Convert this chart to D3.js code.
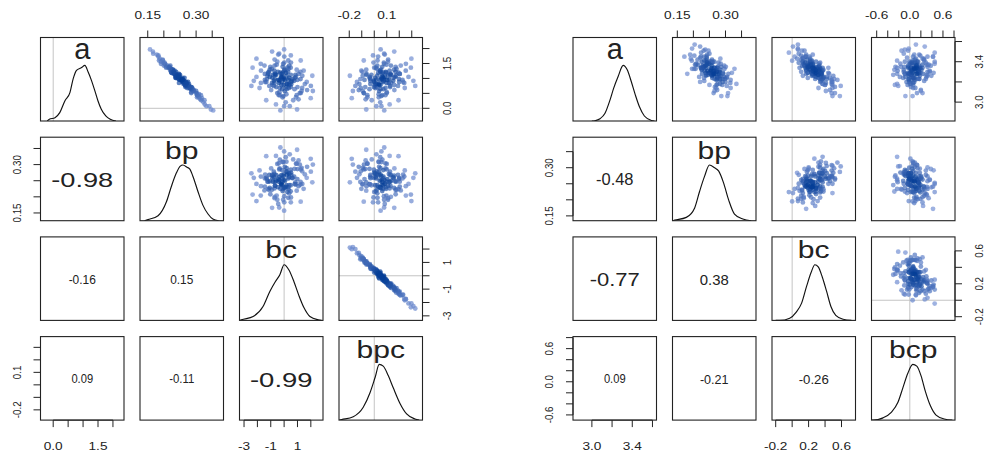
<!DOCTYPE html>
<html><head><meta charset="utf-8">
<script src="https://cdn.jsdelivr.net/npm/d3@7"></script>
<style>
body{margin:0;background:#fff}
svg{display:block}
text{font-family:"Liberation Sans",Arial,Helvetica,sans-serif;fill:#222}
</style></head>
<body><svg id="chart" width="987" height="454"></svg>
<script>
// ---------------- DATA ----------------
const m1_vars = ["a","bp","bc","bpc"];
const m2_vars = ["a","bp","bc","bcp"];

// posterior samples, model 1
const m1_a = [1.05,0.68,1.36,0.92,1.15,0.44,0.95,1.26,0.81,1.56,0.75,1.02,0.58,1.12,0.88,1.29,0.20,1.09,0.71,0.98,1.43,0.85,1.19,0.51,0.95,1.73,0.78,1.22,0.64,1.05,0.37,1.32,0.92,1.15,0.81,1.46,0.61,1.02,0.75,1.26,0.88,1.12,0.54,1.39,0.68,0.95,1.09,0.07,1.53,0.85,1.19,0.78,0.98,1.29,0.47,1.05,0.92,1.63,0.71,1.15,0.30,1.02,1.36,0.81,1.22,0.64,0.95,1.49,0.88,1.12,0.58,1.26,0.75,0.98,1.43,0.41,1.09,0.85,1.19,0.68,1.83,0.92,1.05,0.51,1.32,0.78,1.15,0.27,0.95,1.39,0.71,1.02,0.61,1.22,0.88,1.60,0.81,1.12,0.44,0.98,
  1.90,-0.04,1.09,0.75,1.60,0.27,1.66,0.34,1.02,0.85,1.22,0.78,1.77,0.13,1.36,0.58,0.95,1.15,0.81,1.05,0.64,1.29,1.49,0.44,0.98,0.88,1.80,0.07,1.26,0.68,1.43,0.51,1.12,0.92,1.53,0.37,1.19,0.71,1.97,-0.07];
const m1_bp = [0.248,0.273,0.217,0.263,0.233,0.304,0.250,0.233,0.268,0.191,0.278,0.239,0.293,0.250,0.259,0.227,0.323,0.247,0.284,0.246,0.211,0.263,0.224,0.300,0.255,0.183,0.266,0.238,0.283,0.246,0.303,0.222,0.263,0.232,0.278,0.204,0.288,0.236,0.278,0.226,0.257,0.245,0.285,0.218,0.279,0.257,0.236,0.341,0.198,0.271,0.225,0.271,0.255,0.219,0.309,0.240,0.259,0.196,0.267,0.238,0.313,0.258,0.215,0.270,0.222,0.289,0.252,0.204,0.275,0.235,0.290,0.229,0.268,0.258,0.200,0.308,0.240,0.268,0.231,0.288,0.167,0.259,0.239,0.302,0.223,0.270,0.247,0.316,0.255,0.208,0.279,0.237,0.293,0.230,0.259,0.197,0.261,0.247,0.303,0.252,
  0.166,0.346,0.245,0.273,0.185,0.326,0.187,0.318,0.264,0.247,0.230,0.267,0.183,0.327,0.207,0.300,0.257,0.234,0.269,0.241,0.287,0.228,0.191,0.315,0.246,0.269,0.178,0.332,0.225,0.282,0.220,0.285,0.236,0.261,0.202,0.308,0.224,0.286,0.157,0.353];
const m1_bc = [-1.07,0.35,0.49,-0.34,1.08,-0.40,0.07,-1.73,0.54,-0.51,-0.77,0.80,0.05,-0.59,1.69,0.02,0.12,-1.25,0.50,-0.70,0.38,-1.74,-0.11,1.17,-0.44,0.01,-0.87,1.22,-0.15,-0.14,0.89,-0.92,0.75,-1.44,0.21,-0.56,-0.97,0.38,2.00,-0.73,-0.16,0.84,-0.36,-0.11,1.35,-1.44,0.18,0.00,0.51,-0.73,-0.28,0.39,-1.29,0.94,0.17,-2.07,0.59,-0.71,-0.59,-0.18,1.08,-0.88,0.24,1.55,-1.13,0.19,-0.35,-1.75,0.52,-0.67,1.31,0.03,-1.11,0.64,-0.71,-0.05,1.36,-0.90,0.14,-0.33,-0.37,-2.27,0.87,-0.51,0.34,-0.03,-1.19,0.68,0.99,-1.03,0.16,-0.21,1.72,-0.46,-1.33,0.31,0.37,-0.84,0.94,-0.03,
  -0.90,0.97,2.11,-2.45,1.24,-1.34,-2.07,1.99,-0.04,-0.40,0.30,-0.20,0.50,-0.61,-2.36,2.15,0.32,-0.69,0.21,-0.23,0.78,-1.08,-0.07,-0.32,1.23,-1.42,-0.44,0.42,1.46,-1.84,-1.47,1.25,0.50,-0.76,0.01,-0.12,-1.20,1.00,0.00,-0.28];
const m1_bpc = [0.167,0.010,0.013,0.073,-0.062,0.089,0.044,0.252,-0.031,0.110,0.126,-0.038,0.039,0.136,-0.138,0.054,0.048,0.175,-0.003,0.119,0.024,0.240,0.071,-0.082,0.103,0.031,0.159,-0.095,0.073,0.066,-0.055,0.178,-0.032,0.204,0.037,0.097,0.161,0.007,-0.151,0.123,0.072,-0.063,0.100,0.064,-0.108,0.226,0.024,0.057,-0.006,0.117,0.095,0.005,0.198,-0.064,0.035,0.274,-0.005,0.111,0.127,0.061,-0.069,0.155,0.000,-0.119,0.170,0.050,0.081,0.253,-0.001,0.111,-0.092,0.046,0.190,-0.030,0.133,0.056,-0.092,0.133,0.032,0.090,0.079,0.313,-0.035,0.100,0.021,0.050,0.204,-0.020,-0.078,0.171,0.022,0.073,-0.124,0.092,0.199,0.026,0.011,0.128,-0.055,0.059,
  0.160,-0.064,-0.195,0.328,-0.084,0.194,0.297,-0.180,0.056,0.099,0.048,0.040,-0.010,0.123,0.293,-0.171,0.015,0.130,0.021,0.085,-0.038,0.159,0.079,0.065,-0.111,0.231,0.084,0.017,-0.103,0.244,0.212,-0.085,-0.023,0.152,0.077,0.036,0.194,-0.072,0.051,0.080];

// posterior samples, model 2
const m2_a = [3.34,3.24,3.41,3.30,3.36,3.18,3.31,3.39,3.28,3.46,3.26,3.33,3.22,3.35,3.29,3.40,3.12,3.34,3.25,3.32,3.43,3.28,3.37,3.20,3.31,3.51,3.27,3.38,3.23,3.34,3.17,3.40,3.30,3.36,3.28,3.44,3.23,3.33,3.26,3.39,3.29,3.35,3.21,3.42,3.24,3.31,3.34,3.09,3.45,3.28,3.37,3.27,3.32,3.40,3.19,3.34,3.30,3.48,3.25,3.36,3.15,3.33,3.41,3.28,3.38,3.23,3.31,3.45,3.29,3.35,3.22,3.39,3.26,3.32,3.43,3.17,3.34,3.28,3.37,3.24,3.53,3.30,3.34,3.20,3.40,3.27,3.36,3.14,3.31,3.42,3.25,3.33,3.23,3.38,3.29,3.47,3.28,3.35,3.18,3.32,
  3.55,3.06,3.34,3.26,3.47,3.14,3.49,3.16,3.33,3.28,3.38,3.27,3.51,3.11,3.41,3.22,3.31,3.36,3.28,3.34,3.23,3.40,3.45,3.18,3.32,3.29,3.52,3.09,3.39,3.24,3.43,3.20,3.35,3.30,3.45,3.17,3.37,3.25,3.57,3.06];
const m2_bp = [0.265,0.233,0.240,0.279,0.235,0.283,0.235,0.278,0.261,0.203,0.281,0.207,0.283,0.301,0.250,0.260,0.274,0.274,0.296,0.226,0.242,0.254,0.208,0.291,0.255,0.232,0.240,0.285,0.266,0.256,0.250,0.253,0.282,0.229,0.309,0.221,0.273,0.196,0.284,0.242,0.238,0.276,0.234,0.258,0.259,0.263,0.224,0.308,0.224,0.293,0.214,0.263,0.270,0.226,0.315,0.228,0.262,0.250,0.218,0.257,0.267,0.297,0.234,0.269,0.209,0.291,0.244,0.234,0.320,0.231,0.272,0.258,0.239,0.284,0.192,0.290,0.241,0.279,0.242,0.303,0.196,0.262,0.223,0.300,0.253,0.257,0.296,0.271,0.255,0.213,0.274,0.202,0.298,0.246,0.247,0.243,0.227,0.287,0.275,0.254,
  0.221,0.287,0.266,0.258,0.190,0.316,0.224,0.304,0.328,0.181,0.249,0.246,0.247,0.266,0.195,0.316,0.266,0.238,0.264,0.231,0.283,0.265,0.172,0.334,0.226,0.292,0.237,0.263,0.242,0.275,0.284,0.221,0.234,0.273,0.241,0.272,0.205,0.305,0.204,0.306];
const m2_bc = [0.18,0.38,0.24,0.27,0.33,0.37,0.29,0.08,0.36,0.11,0.27,0.34,0.37,0.20,0.44,0.22,0.46,0.16,0.38,0.22,0.22,0.17,0.23,0.48,0.25,0.12,0.25,0.33,0.34,0.25,0.49,0.13,0.36,0.12,0.34,0.13,0.28,0.31,0.50,0.16,0.29,0.32,0.35,0.18,0.46,0.17,0.27,0.48,0.21,0.25,0.21,0.36,0.17,0.29,0.41,0.09,0.34,0.08,0.29,0.23,0.52,0.20,0.22,0.45,0.14,0.37,0.26,0.03,0.35,0.20,0.48,0.22,0.24,0.33,0.13,0.40,0.37,0.24,0.25,0.32,0.07,0.11,0.34,0.34,0.24,0.32,0.15,0.49,0.37,0.11,0.35,0.26,0.51,0.19,0.19,0.17,0.35,0.18,0.48,0.28,
  0.01,0.58,0.44,0.13,0.25,0.32,-0.04,0.59,0.27,0.28,0.25,0.31,0.15,0.41,0.00,0.55,0.32,0.19,0.34,0.25,0.42,0.13,0.17,0.37,0.38,0.19,0.07,0.52,0.34,0.19,0.06,0.49,0.29,0.23,0.16,0.40,0.14,0.42,0.07,0.49];
const m2_bcp = [0.12,0.07,0.26,-0.11,0.12,0.02,0.11,0.29,-0.23,0.19,-0.02,0.08,-0.02,0.32,-0.04,0.13,0.20,-0.03,0.04,0.04,0.25,0.16,0.23,-0.06,0.16,-0.15,0.31,-0.17,0.17,0.08,-0.04,0.45,0.02,0.12,0.13,-0.05,0.17,0.10,0.18,0.03,0.16,-0.26,0.26,0.09,-0.12,0.36,0.02,0.13,0.06,-0.09,0.31,0.02,0.21,-0.09,0.06,0.17,0.15,-0.11,0.30,-0.03,0.02,0.18,-0.23,-0.01,0.12,0.29,0.02,0.32,0.05,-0.03,0.02,0.05,0.39,-0.11,0.23,0.06,0.10,-0.09,0.04,0.09,-0.02,0.36,0.19,-0.01,0.15,0.03,0.38,0.10,-0.22,0.26,-0.08,0.14,0.14,0.00,0.19,0.17,0.10,-0.10,0.00,0.15,
  0.27,-0.08,-0.23,0.32,0.08,0.06,0.45,-0.21,0.01,0.24,0.45,-0.30,-0.03,0.20,0.05,0.09,0.04,0.17,-0.02,0.23,-0.02,-0.01,0.42,-0.23,-0.28,0.43,-0.09,0.23,0.09,0.06,0.11,0.08,-0.16,0.32,0.42,-0.27,0.34,-0.18,0.11,0.05];

// density curves (x value, height relative to peak)
const m1_dens_a   = [[-0.2,0],[-0.13,0.03],[0.06,0.06],[0.22,0.15],[0.39,0.36],[0.56,0.51],[0.67,0.76],[0.78,0.91],[0.95,0.96],[1.06,1.0],[1.17,0.88],[1.28,0.73],[1.39,0.55],[1.5,0.36],[1.61,0.21],[1.76,0.09],[1.91,0.03],[2.1,0]];
const m1_dens_bp  = [[0.14,0],[0.151,0.02],[0.182,0.09],[0.208,0.34],[0.223,0.61],[0.239,0.86],[0.251,0.98],[0.259,1.0],[0.272,0.96],[0.28,0.93],[0.29,0.80],[0.306,0.52],[0.321,0.28],[0.337,0.12],[0.352,0.03],[0.37,0]];
const m1_dens_bc  = [[-3.3,0],[-3.2,0.01],[-2.32,0.07],[-1.58,0.25],[-1.07,0.52],[-0.65,0.70],[-0.32,0.82],[0.0,1.0],[0.35,0.91],[0.73,0.70],[1.1,0.45],[1.48,0.23],[1.93,0.07],[2.55,0.01],[2.8,0]];
const m1_dens_bpc = [[-0.28,0],[-0.26,0.01],[-0.168,0.06],[-0.088,0.23],[-0.034,0.49],[0.006,0.76],[0.04,1.0],[0.072,0.97],[0.112,0.80],[0.152,0.58],[0.206,0.30],[0.259,0.11],[0.326,0.02],[0.36,0]];
const m2_dens_a   = [[3.0,0],[3.03,0.005],[3.08,0.04],[3.13,0.14],[3.18,0.38],[3.216,0.59],[3.26,0.80],[3.31,1.0],[3.35,0.92],[3.39,0.71],[3.43,0.47],[3.47,0.26],[3.52,0.09],[3.59,0.01],[3.62,0]];
const m2_dens_bp  = [[0.135,0],[0.142,0.01],[0.178,0.06],[0.204,0.23],[0.219,0.52],[0.235,0.80],[0.25,1.0],[0.266,0.95],[0.279,0.89],[0.294,0.68],[0.31,0.37],[0.328,0.12],[0.354,0.03],[0.38,0]];
const m2_dens_bc  = [[-0.2,0],[-0.15,0.0],[-0.03,0.04],[0.05,0.15],[0.115,0.31],[0.175,0.61],[0.23,0.86],[0.276,1.0],[0.317,0.96],[0.366,0.78],[0.419,0.52],[0.471,0.25],[0.53,0.09],[0.62,0.02],[0.72,0]];
const m2_dens_bcp = [[-0.7,0],[-0.665,0],[-0.486,0.04],[-0.336,0.14],[-0.215,0.32],[-0.126,0.58],[-0.036,0.84],[0.054,1.0],[0.126,0.97],[0.205,0.79],[0.28,0.52],[0.367,0.27],[0.475,0.09],[0.624,0.02],[0.77,0]];

// printed correlations (lower triangle: row i, columns 0..i-1)
const m1_cor = [[], [-0.98], [-0.16, 0.15], [0.09, -0.11, -0.99]];
const m2_cor = [[], [-0.48], [-0.77, 0.38], [0.09, -0.21, -0.26]];

// axis domains and ticks
const m1_domains = [[-0.425, 2.37], [0.126, 0.385], [-3.34, 2.91], [-0.282, 0.386]];
const m2_domains = [[2.813, 3.64], [0.135, 0.395], [-0.245, 0.77], [-0.694, 0.818]];
const m1_ticks = [[0,0.5,1,1.5,2], [0.15,0.2,0.25,0.3,0.35], [-3,-2,-1,0,1,2], [-0.2,-0.1,0,0.1,0.2,0.3]];
const m2_ticks = [[3.0,3.2,3.4,3.6], [0.15,0.2,0.25,0.3,0.35], [-0.2,0,0.2,0.4,0.6], [-0.6,-0.4,-0.2,0,0.2,0.4,0.6,0.8]];
const m1_tickLabels = [["0.0","1.5"], ["0.15","0.30"], ["-3","-1","1"], ["-0.2","0.1"]];
const m2_tickLabels = [["3.0","3.4"], ["0.15","0.30"], ["-0.2","0.2","0.6"], ["-0.6","0.0","0.6"]];

// ---------------- DRAWING ----------------
const svg = d3.select("#chart");
const PANEL = 83.5, PITCH_X = 99.5, PITCH_Y = 99.7, TOP = 37.5, TICK = 7;

const plots = [
  {left: 40.5, vars: m1_vars, samples: [m1_a, m1_bp, m1_bc, m1_bpc],
   dens: [m1_dens_a, m1_dens_bp, m1_dens_bc, m1_dens_bpc], cor: m1_cor,
   dom: m1_domains, ticks: m1_ticks, labels: m1_tickLabels},
  {left: 573, vars: m2_vars, samples: [m2_a, m2_bp, m2_bc, m2_bcp],
   dens: [m2_dens_a, m2_dens_bp, m2_dens_bc, m2_dens_bcp], cor: m2_cor,
   dom: m2_domains, ticks: m2_ticks, labels: m2_tickLabels}
];

const colRamp = d3.interpolateRgb("#7f98d8", "#063f97");

function hText(g, x, y, str, size, stretch) {
  return g.append("text")
    .attr("transform", `translate(${x},${y}) scale(${stretch},1)`)
    .attr("text-anchor", "middle").attr("font-size", size).text(str);
}
function vText(g, x, y, str, size, stretch) {
  return g.append("text")
    .attr("transform", `translate(${x},${y}) rotate(-90) scale(1,${stretch})`)
    .attr("text-anchor", "middle").attr("font-size", size).text(str);
}

let clipId = 0;
plots.forEach(P => {
  const n = P.vars.length;
  const xs = d3.range(n).map(i => P.left + i * PITCH_X);
  const ys = d3.range(n).map(i => TOP + i * PITCH_Y);
  const sx = P.dom.map((d, i) => d3.scaleLinear().domain(d).range([xs[i], xs[i] + PANEL]));
  const sy = P.dom.map((d, i) => d3.scaleLinear().domain(d).range([ys[i] + PANEL, ys[i]]));
  const g = svg.append("g");

  for (let i = 0; i < n; i++) {
    for (let j = 0; j < n; j++) {
      const x0 = xs[j], y0 = ys[i];
      const id = "clip" + (clipId++);
      svg.append("clipPath").attr("id", id).append("rect")
        .attr("x", x0).attr("y", y0).attr("width", PANEL).attr("height", PANEL);
      const pg = g.append("g");
      const inner = pg.append("g").attr("clip-path", `url(#${id})`);
      if (i === j) {
        const dy = d3.scaleLinear().domain([0, 1.5]).range([y0 + PANEL, y0]);
        const d = P.dom[j];
        if (d[0] < 0 && d[1] > 0) {
          inner.append("line").attr("x1", sx[j](0)).attr("x2", sx[j](0))
            .attr("y1", y0).attr("y2", y0 + PANEL)
            .attr("stroke", "#c4c4c4").attr("stroke-width", 1);
        }
        const line = d3.line().x(p => sx[j](p[0])).y(p => dy(p[1])).curve(d3.curveMonotoneX);
        inner.append("path").attr("d", line(P.dens[j]))
          .attr("fill", "none").attr("stroke", "#111").attr("stroke-width", 1.15);
        const lab = P.vars[j];
        if (lab === "a") hText(pg, x0 + PANEL / 2, y0 + 21.5, lab, 29, 1.0);
        else hText(pg, x0 + PANEL / 2, y0 + 21.5, lab, 23.5, 1.28);
      } else if (j > i) {
        const dx = P.dom[j], dyv = P.dom[i];
        if (dx[0] < 0 && dx[1] > 0)
          inner.append("line").attr("x1", sx[j](0)).attr("x2", sx[j](0)).attr("y1", y0).attr("y2", y0 + PANEL)
            .attr("stroke", "#c4c4c4").attr("stroke-width", 1);
        if (dyv[0] < 0 && dyv[1] > 0)
          inner.append("line").attr("y1", sy[i](0)).attr("y2", sy[i](0)).attr("x1", x0).attr("x2", x0 + PANEL)
            .attr("stroke", "#c4c4c4").attr("stroke-width", 1);
        const pts = P.samples[j].map((v, k) => ({x: sx[j](v), y: sy[i](P.samples[i][k])}));
        const R2 = 7 * 7;
        pts.forEach(p => { p.c = pts.reduce((s, q) => s + (((p.x - q.x) ** 2 + (p.y - q.y) ** 2) < R2 ? 1 : 0), 0); });
        const cmax = d3.max(pts, p => p.c);
        pts.sort((a, b) => a.c - b.c);
        inner.selectAll("circle").data(pts).join("circle")
          .attr("cx", p => p.x).attr("cy", p => p.y).attr("r", 2.4)
          .attr("fill", p => colRamp(Math.pow(p.c / cmax, 0.85)))
          .attr("fill-opacity", 0.72);
      } else {
        const k = P.cor[i][j], ak = Math.abs(k);
        const size = 11 + 10 * ak;
        const stretch = 10.2 * Math.exp(ak) / size;
        hText(pg, x0 + PANEL / 2, y0 + PANEL / 2 + 0.4 * size, k.toFixed(2), size, stretch);
      }
      pg.append("rect").attr("x", x0).attr("y", y0).attr("width", PANEL).attr("height", PANEL)
        .attr("fill", "none").attr("stroke", "#222").attr("stroke-width", 1.1);
    }
  }

  const ax = g.append("g").attr("stroke", "#222").attr("stroke-width", 1);
  for (let k = 0; k < n; k++) {
    const t = P.ticks[k], labs = P.labels[k];
    if (k % 2 === 0) {
      const yb = ys[n - 1] + PANEL;
      ax.append("line").attr("x1", sx[k](t[0])).attr("x2", sx[k](t[t.length - 1])).attr("y1", yb).attr("y2", yb);
      t.forEach(v => ax.append("line").attr("x1", sx[k](v)).attr("x2", sx[k](v)).attr("y1", yb).attr("y2", yb + TICK));
      labs.forEach(s => hText(g, sx[k](+s), yb + 30, s, 10.5, 1.3));
      const xr = xs[n - 1] + PANEL;
      ax.append("line").attr("y1", sy[k](t[0])).attr("y2", sy[k](t[t.length - 1])).attr("x1", xr).attr("x2", xr);
      t.forEach(v => ax.append("line").attr("y1", sy[k](v)).attr("y2", sy[k](v)).attr("x1", xr).attr("x2", xr + TICK));
      labs.forEach(s => vText(g, xr + 28, sy[k](+s), s, 9.8, 1.05));
    } else {
      const yt = ys[0];
      ax.append("line").attr("x1", sx[k](t[0])).attr("x2", sx[k](t[t.length - 1])).attr("y1", yt).attr("y2", yt);
      t.forEach(v => ax.append("line").attr("x1", sx[k](v)).attr("x2", sx[k](v)).attr("y1", yt).attr("y2", yt - TICK));
      labs.forEach(s => hText(g, sx[k](+s), yt - 18.5, s, 10.5, 1.3));
      const xl = xs[0];
      ax.append("line").attr("y1", sy[k](t[0])).attr("y2", sy[k](t[t.length - 1])).attr("x1", xl).attr("x2", xl);
      t.forEach(v => ax.append("line").attr("y1", sy[k](v)).attr("y2", sy[k](v)).attr("x1", xl).attr("x2", xl - TICK));
      labs.forEach(s => vText(g, xl - 20, sy[k](+s), s, 9.8, 1.05));
    }
  }
});
</script>
</body></html>
